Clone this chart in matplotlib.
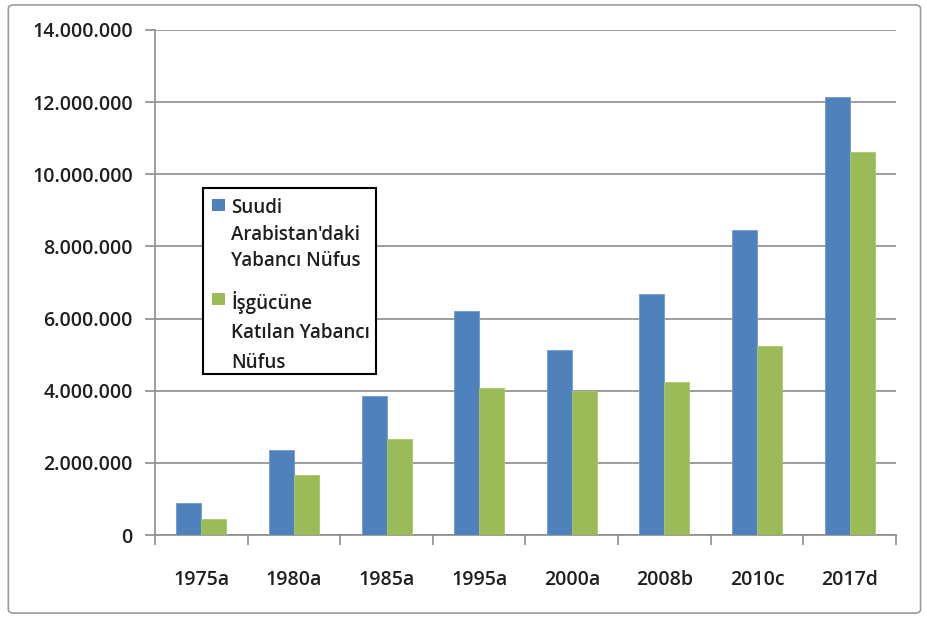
import matplotlib
matplotlib.use("Agg")
import matplotlib.pyplot as plt
from matplotlib.patches import FancyBboxPatch, Rectangle
from matplotlib.ticker import FuncFormatter
import numpy as np

categories = ["1975a", "1980a", "1985a", "1995a", "2000a", "2008b", "2010c", "2017d"]
foreign_pop = [880000, 2350000, 3850000, 6220000, 5130000, 6690000, 8460000, 12130000]
foreign_labor = [430000, 1670000, 2650000, 4080000, 3990000, 4240000, 5230000, 10620000]
series_names = ["Suudi\nArabistan'daki\nYabancı Nüfus", "İşgücüne\nKatılan Yabancı\nNüfus"]
yticks = [0, 2000000, 4000000, 6000000, 8000000, 10000000, 12000000, 14000000]
colors = ["#4F81BD", "#9BBB59"]

plt.rcParams['font.family'] = ['Open Sans', 'DejaVu Sans']
text_color = "#1f1f1f"
grid_color = "#8c8c8c"
W, H = 928, 618

fig = plt.figure(figsize=(9.28, 6.18), dpi=100)
border = FancyBboxPatch((0.009, 0.008), 0.983, 0.984, boxstyle="round,pad=0,rounding_size=0.006",
                        transform=fig.transFigure, facecolor="none", edgecolor="#9a9a9a", linewidth=1.2,
                        zorder=-1)
fig.patches.append(border)

ax = fig.add_axes([0.167, 0.1343, 0.7985, 0.8172])
x = np.arange(len(categories))
w = 0.27
ax.bar(x - w / 2, foreign_pop, width=w, color=colors[0], edgecolor="#6E9BD0", linewidth=0.6, zorder=3)
ax.bar(x + w / 2, foreign_labor, width=w, color=colors[1], edgecolor="#A9C86A", linewidth=0.6, zorder=3)

ax.set_xlim(-0.5, len(categories) - 0.5)
ax.set_ylim(0, 14000000)
ax.set_yticks(yticks)
ax.yaxis.set_major_formatter(FuncFormatter(lambda v, p: f"{int(v):,}".replace(",", ".")))
ax.set_xticks(x)
ax.set_xticklabels(categories)
ax.set_xticks(np.arange(-0.5, len(categories)), minor=True)
ax.tick_params(axis='x', which='major', length=0, pad=25, labelsize=14, labelcolor=text_color)
ax.tick_params(axis='x', which='minor', length=7, width=1.2, color=grid_color)
ax.tick_params(axis='y', length=7, width=1.2, color=grid_color, pad=9, labelsize=14, labelcolor=text_color)
for lbl in ax.get_xticklabels() + ax.get_yticklabels():
    lbl.set_fontweight("semibold")

ax.grid(axis='y', color=grid_color, linewidth=1.2, zorder=0)
for s in ["top", "right"]:
    ax.spines[s].set_visible(False)
for s in ["left", "bottom"]:
    ax.spines[s].set_color(grid_color)
    ax.spines[s].set_linewidth(1.2)

# manual legend (pixel layout)
def fx(px):
    return px / W

def fy(py):
    return 1 - py / H

frame = Rectangle((fx(203), fy(374)), fx(376) - fx(203), fy(188) - fy(374), transform=fig.transFigure,
                  facecolor="white", edgecolor="black", linewidth=1.5, zorder=5)
fig.patches.append(frame)
line_centers = [[206, 232, 258], [300, 330, 360]]
square_tops = [199, 293]
for i, name in enumerate(series_names):
    fig.patches.append(Rectangle((fx(212), fy(square_tops[i] + 12)), 13 / W, 12 / H, transform=fig.transFigure,
                                 facecolor=colors[i], edgecolor="none", zorder=6))
    for line, yc in zip(name.split("\n"), line_centers[i]):
        fig.text(fx(231), fy(yc), line, ha="left", va="center_baseline", fontsize=13.5,
                 fontweight="semibold", color=text_color, zorder=7)

fig.savefig("out.png", dpi=100)
